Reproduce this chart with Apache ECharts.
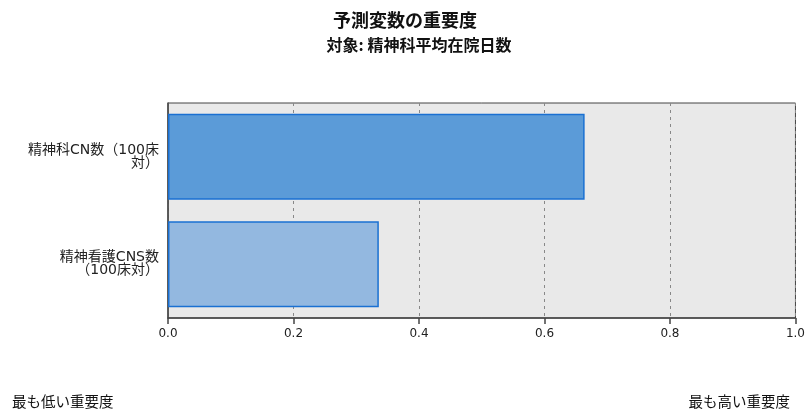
<!DOCTYPE html>
<html>
<head>
<meta charset="utf-8">
<script src="https://cdn.jsdelivr.net/npm/echarts@6/dist/echarts.min.js"></script>
<style>
  html, body { margin: 0; padding: 0; background: #fff; }
  #chart { width: 808px; height: 414px; }
</style>
</head>
<body>
<div id="chart"></div>
<script>
// Predictor names (top to bottom) and their importance
const predictors = ['精神科CN数（100床\n対）', '精神看護CNS数\n（100床対）'];
const importance = [0.664, 0.336];
const barFills = ['#5b9bd8', '#93b8e0'];
const xTicks = [0, 0.2, 0.4, 0.6, 0.8, 1.0];

const titleText = '予測変数の重要度';
const subtitleText = '対象: 精神科平均在院日数';
const lowText = '最も低い重要度';
const highText = '最も高い重要度';

const FONT = '"Noto Sans CJK JP", "Noto Sans", sans-serif';
// wide Latin glyphs with Japanese fallback
const LABEL_FONT = '"DejaVu Sans", "Noto Sans CJK JP", sans-serif';
const NUM_FONT = '"DejaVu Sans", sans-serif';

const chart = echarts.init(document.getElementById('chart'), null, { renderer: 'canvas' });

chart.setOption({
  backgroundColor: '#ffffff',
  animation: false,
  title: [
    { text: titleText, left: 400, top: 6, textAlign: 'center',
      textStyle: { fontFamily: FONT, fontSize: 18, fontWeight: 'bold', color: '#111' } },
    { text: subtitleText, left: 414, top: 32, textAlign: 'center',
      textStyle: { fontFamily: FONT, fontSize: 16, fontWeight: 'bold', color: '#111' } }
  ],
  grid: {
    left: 168, right: 10, top: 103, bottom: 96,
    show: true, backgroundColor: '#e9e9e9', borderColor: '#444', borderWidth: 1
  },
  xAxis: {
    type: 'value', min: xTicks[0], max: xTicks[xTicks.length - 1], interval: 0.2,
    axisLine: { show: true, lineStyle: { color: '#444', width: 1.5 } },
    axisTick: { show: true, length: 6, lineStyle: { color: '#444', width: 1.5 } },
    axisLabel: { fontFamily: NUM_FONT, fontSize: 12, color: '#222', margin: 10,
      formatter: v => v.toFixed(1) },
    splitLine: { show: true, lineStyle: { color: '#888', type: [3, 4], width: 1 } }
  },
  yAxis: {
    type: 'category', inverse: true,
    data: predictors.map((name, i) => i === 0
      ? { value: name, textStyle: { padding: [6, 0, 0, 0] } }
      : name),
    axisLine: { show: true, lineStyle: { color: '#444', width: 1.5 } },
    axisTick: { show: false },
    axisLabel: { fontFamily: LABEL_FONT, fontSize: 14, color: '#222', margin: 9,
      align: 'right', lineHeight: 13 }
  },
  series: [{
    type: 'bar',
    barWidth: '80%',
    data: importance.map((v, i) => ({
      value: v,
      itemStyle: { color: barFills[i], borderColor: '#1a70d2', borderWidth: 1.5 }
    }))
  }],
  graphic: [
    { type: 'text', x: 12, y: 394,
      style: { text: lowText, font: '14.5px ' + FONT, fill: '#111', textAlign: 'left' } },
    { type: 'text', x: 790, y: 394,
      style: { text: highText, font: '14.5px ' + FONT, fill: '#111', textAlign: 'right' } }
  ]
});
</script>
</body>
</html>
